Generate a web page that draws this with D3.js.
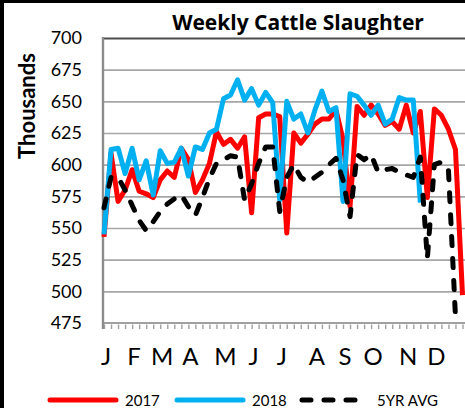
<!DOCTYPE html>
<html>
<head>
<meta charset="utf-8">
<script src="https://cdn.jsdelivr.net/npm/d3@7"></script>
<style>
    html, body { margin: 0; padding: 0; background: #fff; }
    svg { display: block; font-family: Lato, "Open Sans", sans-serif; }
</style>
</head>
<body>
<svg id="graficoAbate" width="465" height="408"></svg>
<script>
// Dados (milhares de cabeças por semana)
const meses = ["J", "F", "M", "A", "M", "J", "J", "A", "S", "O", "N", "D"];
const semanaDosMeses = [0, 4, 8, 12, 17, 21, 25, 30, 34, 38, 43, 47];
const ticksY = [475, 500, 525, 550, 575, 600, 625, 650, 675, 700];

const abate2017 = [543, 609, 571, 580, 596, 579, 577, 574, 588, 595, 590, 613, 604, 578, 588, 601,
    626, 616, 620, 613, 622, 562, 637, 640, 640, 638, 546, 625, 617, 624, 632, 636, 636, 643, 620,
    567, 646, 639, 647, 640, 631, 634, 628, 647, 625, 642, 574, 644, 639, 628, 612, 497];
const abate2018 = [545, 612, 613, 593, 613, 588, 603, 576, 611, 601, 602, 613, 591, 614, 612, 625,
    628, 652, 655, 667, 651, 660, 647, 657, 649, 572, 650, 636, 640, 625, 643, 658, 642, 645, 571,
    656, 654, 647, 639, 647, 632, 636, 653, 651, 651, 570];
const media5Anos = [566, 590, 590, 580, 568, 556, 548, 555, 563, 569, 573, 576, 567, 560, 574, 589,
    601, 604, 607, 606, 572, 585, 601, 614, 614, 563, 590, 600, 590, 586, 590, 594, 600, 605, 588,
    559, 608, 604, 608, 594, 596, 597, 594, 592, 590, 606, 526, 600, 602, 596, 480];

const series = [
    { nome: "2017", valores: abate2017, cor: "#ff0000", tracejado: null },
    { nome: "2018", valores: abate2018, cor: "#00b0f0", tracejado: null },
    { nome: "5YR AVG", valores: media5Anos, cor: "#000000", tracejado: "9,13" }
];

const config = {
    eixo: 103, inicio: 104, direita: 462.5, topo: 38, base: 323, fimGrade: 470,
    espessura: 5
};

const grafico = d3.select("#graficoAbate");

const xScale = d3.scaleLinear().domain([0, 51]).range([config.inicio, config.direita]);
const yScale = d3.scaleLinear().domain([475, 700]).range([config.base, config.topo]);

// Grade horizontal + rótulos do eixo Y
const grupoY = grafico.append("g").attr("transform", `translate(${config.eixo},0)`);
grupoY.call(d3.axisLeft(yScale).tickValues(ticksY)
    .tickSize(-(config.fimGrade - config.eixo)).tickPadding(21));
grupoY.select(".domain").remove();
grupoY.selectAll(".tick line")
    .attr("stroke", d => d === 700 ? "#4d4d4d" : "#a6a6a6")
    .attr("stroke-width", d => d === 700 ? 1.8 : 1.6);
grupoY.selectAll(".tick line").filter(d => d === 475).remove();
grupoY.selectAll(".tick text")
    .attr("fill", "#000").attr("font-size", "18px").attr("font-family", "Lato, sans-serif");

// Eixo X com marcas semanais
const grupoX = grafico.append("g").attr("transform", `translate(0,${config.base})`);
grupoX.call(d3.axisBottom(xScale).tickValues(d3.range(52)).tickSize(6).tickFormat(""));
grupoX.select(".domain").remove();
grupoX.selectAll(".tick line").attr("stroke", "#a0a0a0").attr("stroke-width", 1.4)
    .attr("y1", 1.5);
grupoX.append("line")
    .attr("x1", config.eixo - 1).attr("x2", config.fimGrade)
    .attr("y1", 0).attr("y2", 0)
    .attr("stroke", "#a0a0a0").attr("stroke-width", 2.2);

// Eixo vertical
grafico.append("line")
    .attr("x1", config.eixo).attr("x2", config.eixo)
    .attr("y1", config.topo - 1).attr("y2", config.base + 6)
    .attr("stroke", "#8c8c8c").attr("stroke-width", 2.4);

grafico.append("g").selectAll("text")
    .data(meses)
    .enter().append("text")
    .attr("x", (d, i) => xScale(semanaDosMeses[i]) + 2)
    .attr("y", 365)
    .attr("text-anchor", "middle")
    .attr("font-size", "24px")
    .attr("fill", "#000")
    .text(d => d);

// Linhas das séries
const linha = d3.line().x((d, i) => xScale(i)).y(d => yScale(d));
grafico.append("g").selectAll("path")
    .data(series)
    .enter().append("path")
    .attr("d", d => linha(d.valores))
    .attr("fill", "none")
    .attr("stroke", d => d.cor)
    .attr("stroke-width", config.espessura)
    .attr("stroke-linejoin", "round")
    .attr("stroke-linecap", d => d.tracejado ? "round" : "butt")
    .attr("stroke-dasharray", d => d.tracejado);

// Título e rótulo do eixo
grafico.append("text")
    .attr("x", 298).attr("y", 30)
    .attr("text-anchor", "middle")
    .attr("font-family", "'Open Sans', sans-serif")
    .attr("font-size", "21px").attr("font-weight", "700")
    .text("Weekly Cattle Slaughter");

grafico.append("text")
    .attr("transform", "translate(35,106) rotate(-90)")
    .attr("text-anchor", "middle")
    .attr("font-size", "22px").attr("font-weight", "700")
    .text("Thousands");

// Legenda
const legenda = grafico.append("g").attr("transform", "translate(0,400)");
const posLegenda = [50, 177, 302];
const itens = legenda.selectAll("g")
    .data(series)
    .enter().append("g")
    .attr("transform", (d, i) => `translate(${posLegenda[i]},0)`);
itens.append("line")
    .attr("x1", 0).attr("x2", 66)
    .attr("stroke", d => d.cor)
    .attr("stroke-width", 5)
    .attr("stroke-linecap", "round")
    .attr("stroke-dasharray", d => d.tracejado);
itens.append("text")
    .attr("x", 75)
    .attr("y", 5.5)
    .attr("font-size", "15px")
    .attr("fill", "#000")
    .text(d => d.nome);

// Moldura preta recortada (topo e esquerda)
grafico.append("rect").attr("x", 0).attr("y", 0).attr("width", 465).attr("height", 3).attr("fill", "#000");
grafico.append("rect").attr("x", 0).attr("y", 0).attr("width", 4).attr("height", 408).attr("fill", "#000");
</script>
</body>
</html>
